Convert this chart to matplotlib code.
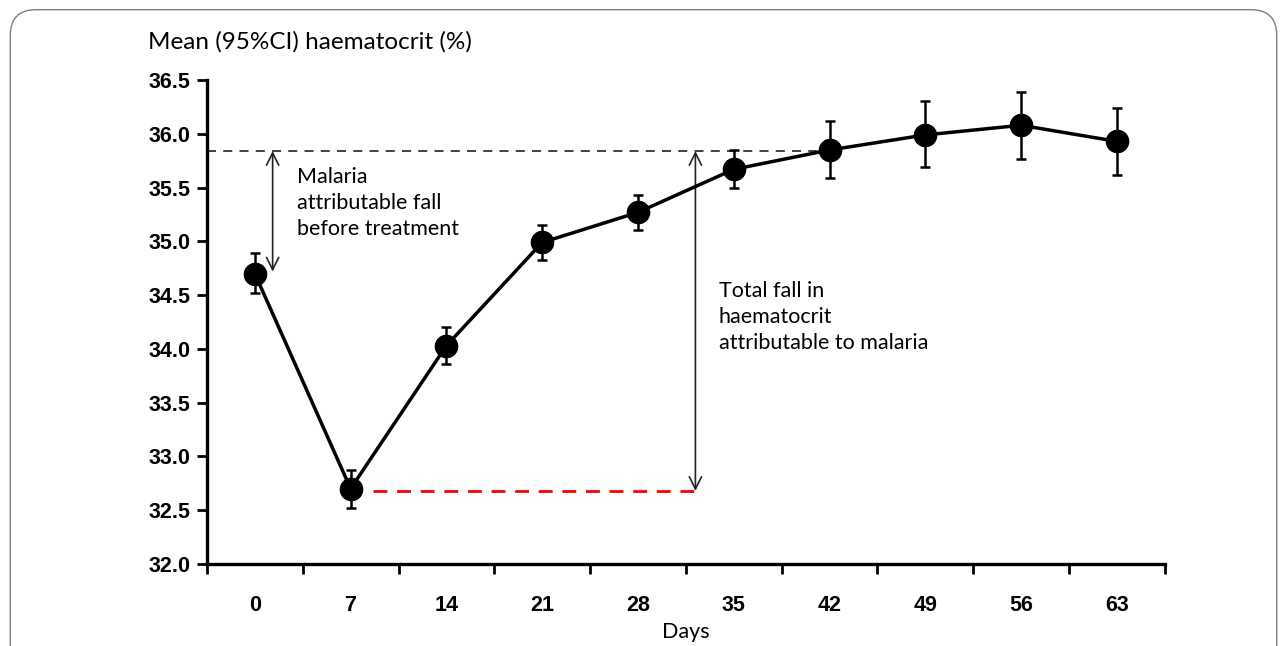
import numpy as np
import matplotlib.pyplot as plt
from matplotlib.patches import FancyBboxPatch

days = [0, 7, 14, 21, 28, 35, 42, 49, 56, 63]
hct_mean = [34.70, 32.70, 34.03, 34.99, 35.27, 35.67, 35.85, 35.99, 36.08, 35.93]
ci_low = [34.52, 32.52, 33.86, 34.83, 35.11, 35.50, 35.59, 35.69, 35.77, 35.62]
ci_high = [34.89, 32.87, 34.20, 35.15, 35.43, 35.85, 36.12, 36.31, 36.39, 36.24]

baseline = 35.84      # pre-malaria haematocrit level
nadir = 32.68         # lowest level at day 7
pre_treat = 34.72     # level at presentation

fig = plt.figure(figsize=(12.87, 6.46), dpi=100)
ax = fig.add_axes([0.1608, 0.127, 0.7442, 0.749])

# rounded frame round the whole figure
frame = FancyBboxPatch((0.008, -0.2), 0.984, 1.185, boxstyle="round,pad=0,rounding_size=0.02",
                       transform=fig.transFigure, fill=False, edgecolor='#808080', linewidth=1.0,
                       mutation_aspect=12.87 / 6.46)
fig.patches.append(frame)

y = np.array(hct_mean)
yerr = [y - np.array(ci_low), np.array(ci_high) - y]
ax.errorbar(days, y, yerr=yerr, color='black', lw=2.5, marker='o', markersize=16,
            ecolor='black', elinewidth=1.8, capsize=3.8, capthick=1.8, zorder=3)

# reference lines
ax.plot([-3.5, 42], [baseline, baseline], color='#333333', lw=1.3, dashes=(5, 4), zorder=2)
ax.plot([8.6, 32.5], [nadir, nadir], color='red', lw=2.0, dashes=(5, 3.5), zorder=2)

arrow = dict(arrowstyle='<->', color='#222222', lw=1.2, mutation_scale=22, shrinkA=0, shrinkB=0)
ax.annotate('', xy=(1.3, pre_treat), xytext=(1.3, baseline), arrowprops=arrow)
ax.annotate('', xy=(32.2, nadir), xytext=(32.2, baseline), arrowprops=arrow)

txt = dict(fontsize=15.5, family='Lato', va='top', ha='left', linespacing=1.38)
ax.text(3.05, 35.69, 'Malaria\nattributable fall\nbefore treatment', **txt)
ax.text(33.9, 34.63, 'Total fall in\nhaematocrit\nattributable to malaria', **txt)

ax.set_xlim(-3.5, 66.5)
ax.set_ylim(32.0, 36.5)
ax.set_yticks(np.arange(32.0, 36.51, 0.5))
ax.set_yticklabels(['%.1f' % v for v in np.arange(32.0, 36.51, 0.5)])
ax.set_xticks(days)
ax.set_xticks(np.arange(-3.5, 67, 7), minor=True)
ax.tick_params(axis='x', which='major', length=0, pad=22)
ax.tick_params(axis='x', which='minor', length=7, width=2, direction='out')
ax.tick_params(axis='y', length=7, width=2, pad=5)
for lab in ax.get_xticklabels() + ax.get_yticklabels():
    lab.set_fontfamily('Liberation Sans')
    lab.set_fontweight('bold')
    lab.set_fontsize(15.5)

for s in ['top', 'right']:
    ax.spines[s].set_visible(False)
for s in ['left', 'bottom']:
    ax.spines[s].set_linewidth(2.4)

ax.set_xlabel('Days', family='Lato', fontsize=15.5, labelpad=5)
fig.text(0.115, 0.935, 'Mean (95%CI) haematocrit (%)', family='Lato', fontsize=17.5, va='center', ha='left')

fig.savefig('out.png', dpi=100)
